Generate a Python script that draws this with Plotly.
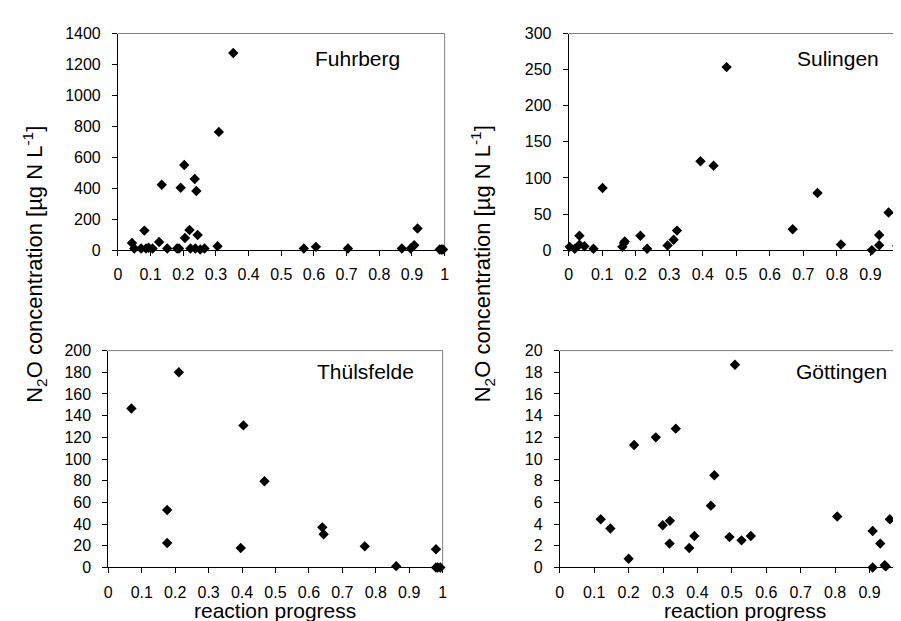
import plotly.graph_objects as go

# ---------------- data ----------------
fuhrberg_x = [0.043, 0.05, 0.081, 0.071, 0.086, 0.094, 0.106, 0.126, 0.134, 0.151,
              0.181, 0.187, 0.192, 0.203, 0.205, 0.219, 0.222, 0.235, 0.24, 0.244,
              0.237, 0.252, 0.265, 0.305, 0.309, 0.353, 0.569, 0.606, 0.704, 0.869,
              0.896, 0.907, 0.917, 0.985, 0.99, 0.995]
fuhrberg_y = [46, 10, 126, 10, 10, 15, 10, 52, 422, 10,
              10, 10, 403, 550, 78, 130, 10, 460, 382, 98,
              10, 4, 10, 25, 764, 1274, 10, 21, 10, 10,
              10, 31, 140, 4, 4, 4]

sulingen_x = [0.003, 0.018, 0.032, 0.032, 0.047, 0.074, 0.101, 0.16, 0.165, 0.167,
              0.214, 0.234, 0.295, 0.313, 0.323, 0.393, 0.432, 0.471, 0.668, 0.742,
              0.812, 0.904, 0.926, 0.926, 0.954, 0.98, 0.992]
sulingen_y = [4.5, 1.8, 19.8, 7.6, 5.4, 1.8, 86, 4.5, 10, 12,
              19.8, 1.8, 6.3, 14.4, 27, 123, 117, 253.5, 29, 79,
              7.7, 0, 6.8, 21, 52, 6, 2]

thuelsfelde_x = [0.069, 0.176, 0.176, 0.211, 0.396, 0.404, 0.467, 0.64, 0.644, 0.767,
                 0.861, 0.98, 0.98, 0.985, 0.993]
thuelsfelde_y = [146.6, 53, 22.5, 180, 18, 131, 79.5, 37, 30.6, 19.5,
                 1.2, 16.8, 0, 0, 0]

goettingen_x = [0.119, 0.147, 0.2, 0.216, 0.279, 0.299, 0.32, 0.319, 0.337, 0.376,
                0.391, 0.439, 0.449, 0.493, 0.509, 0.528, 0.555, 0.806, 0.909, 0.909,
                0.931, 0.944, 0.947, 0.959]
goettingen_y = [4.44, 3.6, 0.81, 11.3, 12.0, 3.9, 4.3, 2.2, 12.8, 1.8,
                2.9, 5.7, 8.5, 2.8, 18.7, 2.5, 2.9, 4.7, 3.36, 0,
                2.2, 0.2, 0.1, 4.44]

x_tickvals = [0, 0.1, 0.2, 0.3, 0.4, 0.5, 0.6, 0.7, 0.8, 0.9, 1]
x_ticktext = ["0", "0.1", "0.2", "0.3", "0.4", "0.5", "0.6", "0.7", "0.8", "0.9", "1"]

panels = [
    # name, x, y, ymax, dtick
    ("Fuhrberg", fuhrberg_x, fuhrberg_y, 1400, 200),
    ("Sulingen", sulingen_x, sulingen_y, 300, 50),
    ("Thülsfelde", thuelsfelde_x, thuelsfelde_y, 200, 20),
    ("Göttingen", goettingen_x, goettingen_y, 20, 2),
]

# ---------------- layout geometry ----------------
W, H = 901, 621
FONT = "Liberation Sans, Arial, sans-serif"

def px(x):
    return x / W

def py(y):
    return 1 - y / H

x_domains = [
    [px(107), px(437)],
    [px(562.3), 1.0],
    [px(97.3), px(435)],
    [px(553.3), 1.0],
]
y_domains = [
    [py(240.7), py(18)],
    [py(240.7), py(18)],
    [py(567), py(344)],
    [py(567), py(344)],
]
label_pos = [(349, 44), (834, 44), (357, 365), (838, 365)]

fig = go.Figure()
layout = dict(
    width=W, height=H,
    margin=dict(l=0, r=0, t=0, b=0),
    paper_bgcolor="white", plot_bgcolor="white",
    showlegend=False,
    font=dict(family=FONT, color="black"),
)
shapes = []
annotations = []

for i, (name, xs, ys, ymax, dt) in enumerate(panels):
    k = "" if i == 0 else str(i + 1)
    fig.add_trace(go.Scatter(
        x=xs, y=ys, mode="markers",
        marker=dict(symbol="diamond", size=8, color="black", line=dict(width=0)),
        xaxis="x" + k, yaxis="y" + k, cliponaxis=False,
    ))
    layout["xaxis" + k] = dict(
        domain=x_domains[i], anchor="y" + k, range=[0, 1],
        tickvals=x_tickvals, ticktext=x_ticktext,
        ticks="outside", ticklen=5, tickcolor="black", tickwidth=1,
        showline=True, linecolor="black", linewidth=1,
        showgrid=False, zeroline=False,
        tickfont=dict(size=16, family=FONT, color="black"),
        ticklabelstandoff=5,
    )
    layout["yaxis" + k] = dict(
        domain=y_domains[i], anchor="x" + k, range=[0, ymax],
        tick0=0, dtick=dt,
        ticks="outside", ticklen=5, tickcolor="black", tickwidth=1,
        showline=True, linecolor="black", linewidth=1,
        showgrid=False, zeroline=False,
        tickfont=dict(size=16, family=FONT, color="black"),
        ticklabelstandoff=8,
    )
    xr = "x" + k + " domain"
    yr = "y" + k + " domain"
    shapes.append(dict(type="line", xref=xr, yref=yr, x0=0, x1=1, y0=1, y1=1,
                       line=dict(color="#808080", width=1), layer="below"))
    shapes.append(dict(type="line", xref=xr, yref=yr, x0=1, x1=1, y0=0, y1=1,
                       line=dict(color="#808080", width=1), layer="below"))
    lx, ly = label_pos[i]
    annotations.append(dict(text=name, x=px(lx), y=py(ly), xref="paper", yref="paper",
                            showarrow=False, xanchor="center", yanchor="middle",
                            font=dict(size=21, family=FONT, color="black")))

ytitle = "N<sub>2</sub>O concentration [µg N L<sup>-1</sup>]"
for cx in (22, 475):
    annotations.append(dict(text=ytitle, x=px(cx), y=py(255), xref="paper", yref="paper",
                            showarrow=False, textangle=-90, xanchor="center", yanchor="middle",
                            font=dict(size=22, family=FONT, color="black")))
for cx in (266, 740):
    annotations.append(dict(text="reaction progress", x=px(cx), y=py(611), xref="paper",
                            yref="paper", showarrow=False, xanchor="center", yanchor="middle",
                            font=dict(size=21, family=FONT, color="black")))

layout["shapes"] = shapes
layout["annotations"] = annotations
fig.update_layout(**layout)
fig.write_html("out.html")
